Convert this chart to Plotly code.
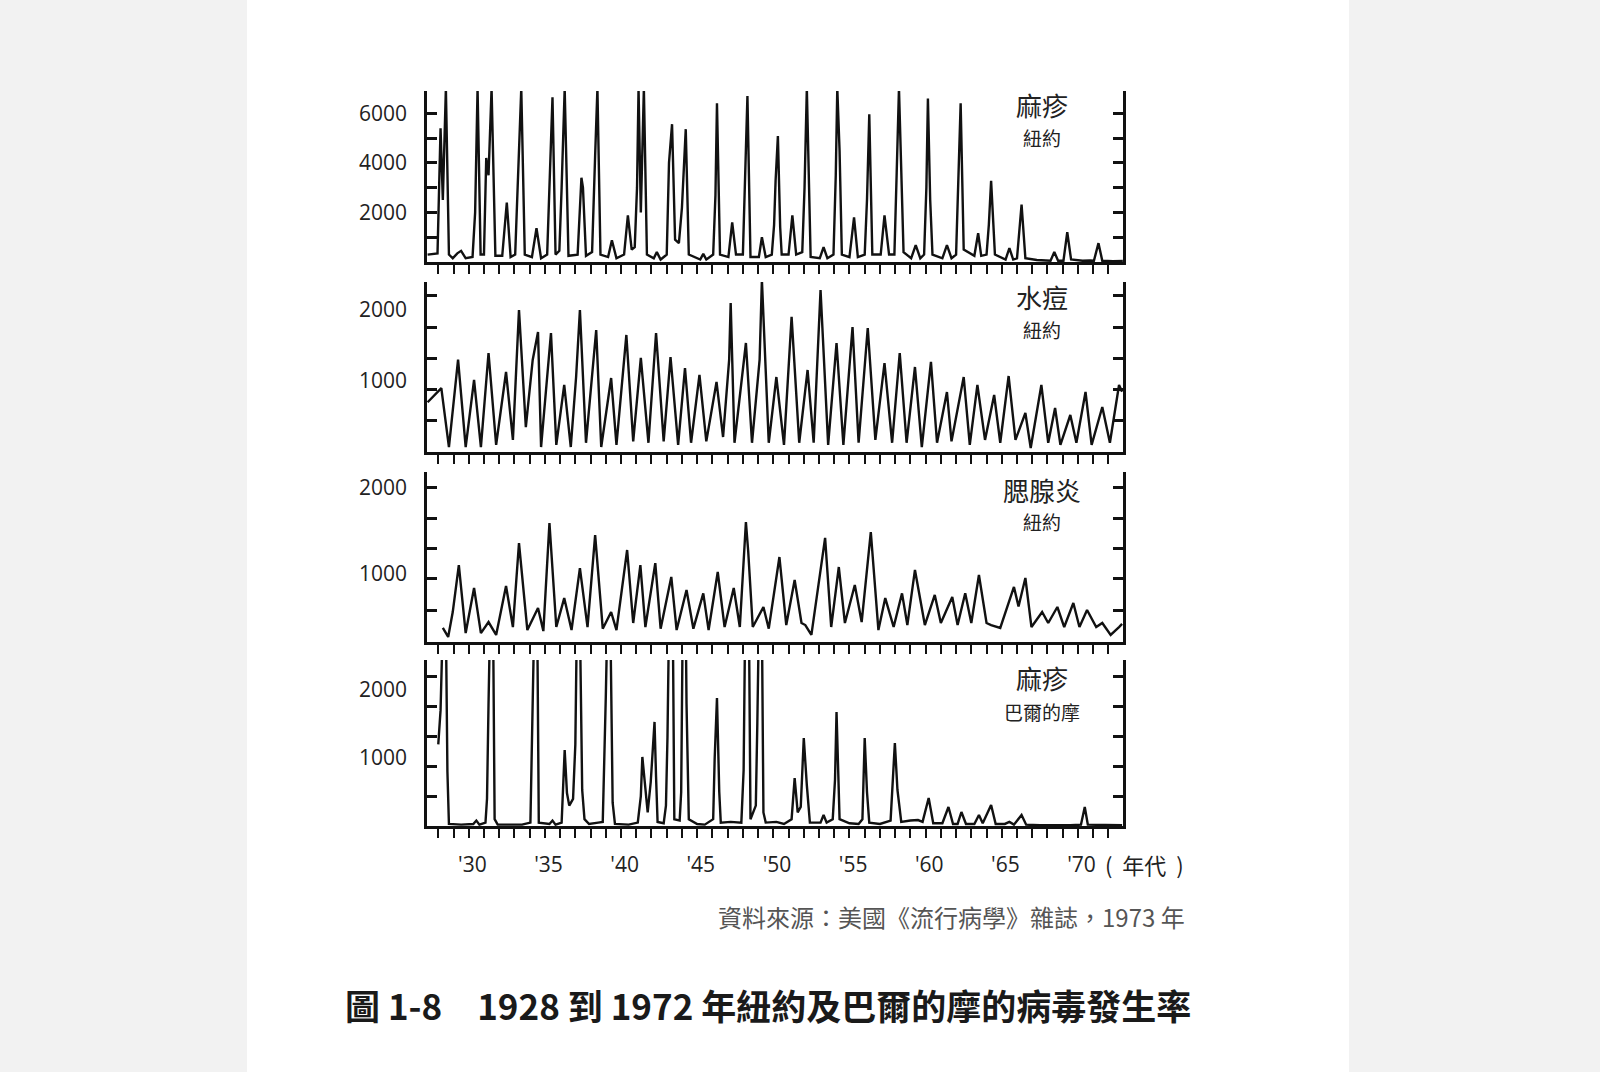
import plotly.graph_objects as go

# ---------------- data (decimal year, cases) ----------------
measles_ny_t = [1927.3, 1927.95, 1928.15, 1928.3, 1928.5, 1928.7, 1928.95, 1929.25, 1929.5, 1929.8,
    1930.25, 1930.42, 1930.58, 1930.78, 1931.0, 1931.15, 1931.3, 1931.5, 1931.75,
    1932.2, 1932.5, 1932.75, 1933.05, 1933.3, 1933.45, 1933.68, 1934.15, 1934.45, 1934.75,
    1935.15, 1935.35, 1935.5, 1935.7, 1935.95, 1936.1, 1936.3, 1936.55,
    1937.15, 1937.4, 1937.5, 1937.7, 1938.1, 1938.3, 1938.45, 1938.65, 1939.15, 1939.4, 1939.7,
    1940.2, 1940.45, 1940.7, 1940.9, 1941.05, 1941.15, 1941.3, 1941.5, 1941.7,
    1942.15, 1942.35, 1942.6, 1943.0, 1943.15, 1943.35, 1943.55, 1943.8,
    1944.0, 1944.25, 1944.45, 1945.2, 1945.4, 1945.6, 1946.05, 1946.2, 1946.3, 1946.5,
    1947.05, 1947.3, 1947.55, 1948.0, 1948.15, 1948.3, 1948.5, 1949.05, 1949.25, 1949.5,
    1949.9, 1950.05, 1950.15, 1950.3, 1950.45, 1950.55, 1951.0, 1951.25, 1951.5,
    1951.9, 1952.05, 1952.2, 1952.45, 1953.05, 1953.3, 1953.55,
    1953.95, 1954.1, 1954.2, 1954.35, 1954.5, 1955.0, 1955.3, 1955.55,
    1956.0, 1956.15, 1956.3, 1956.5, 1957.05, 1957.3, 1957.6,
    1957.95, 1958.1, 1958.25, 1958.55, 1959.05, 1959.35, 1959.65,
    1959.9, 1960.05, 1960.15, 1960.3, 1960.45, 1961.1, 1961.4, 1961.7,
    1962.0, 1962.15, 1962.3, 1962.5, 1963.2, 1963.45, 1963.65,
    1964.0, 1964.15, 1964.3, 1964.55, 1965.25, 1965.5, 1965.75,
    1966.0, 1966.3, 1966.55, 1967.3, 1967.7, 1968.2, 1968.45, 1968.7,
    1969.05, 1969.3, 1969.55, 1970.3, 1970.8, 1971.05, 1971.35, 1971.6, 1972.3, 1972.95]
measles_ny_v = [300, 350, 5400, 2500, 7000, 300, 150, 350, 450, 150,
    200, 2000, 7000, 300, 300, 4200, 3500, 7000, 250,
    250, 2400, 200, 300, 5000, 7000, 300, 200, 1360, 150,
    300, 3500, 6650, 300, 450, 3000, 7000, 250,
    300, 3400, 3000, 250, 400, 4300, 7000, 300, 200, 880, 150,
    300, 1880, 500, 600, 3000, 7000, 2000, 7000, 300,
    150, 400, 100, 300, 4000, 5560, 900, 760,
    2200, 5360, 300, 100, 330, 100, 300, 2700, 6400, 300,
    200, 1600, 300, 300, 3300, 6700, 200, 200, 1000, 200,
    300, 1500, 3300, 5080, 1400, 300, 300, 1880, 300,
    400, 3000, 7000, 200, 150, 600, 150,
    300, 3500, 7000, 4500, 300, 200, 1800, 200,
    300, 2500, 5960, 300, 300, 1880, 300,
    300, 3600, 7000, 400, 150, 680, 150,
    300, 3000, 6600, 2500, 300, 150, 680, 150,
    300, 3000, 6400, 500, 250, 1160, 250,
    300, 1500, 3280, 300, 100, 560, 100,
    150, 2320, 150, 80, 60, 50, 400, 50,
    50, 1200, 100, 50, 60, 50, 760, 50, 30, 40]

chickenpox_ny_t = [1927.3, 1928.2, 1928.7, 1929.3, 1929.8, 1930.35, 1930.8, 1931.3, 1931.8,
    1932.45, 1932.9, 1933.3, 1933.75, 1934.2, 1934.55, 1934.75, 1935.4, 1935.75, 1936.27, 1936.7,
    1937.05, 1937.3, 1937.7, 1938.37, 1938.7, 1939.35, 1939.7, 1940.35, 1940.8, 1941.3, 1941.8,
    1942.3, 1942.8, 1943.25, 1943.75, 1944.2, 1944.6, 1945.15, 1945.6, 1946.27, 1946.7,
    1947.1, 1947.2, 1947.45, 1948.2, 1948.6, 1949.1, 1949.25, 1949.7, 1950.2, 1950.7,
    1951.2, 1951.7, 1952.25, 1952.65, 1953.1, 1953.6, 1954.15, 1954.6, 1955.2, 1955.6,
    1956.2, 1956.7, 1957.3, 1957.8, 1958.3, 1958.75, 1959.3, 1959.75, 1960.35, 1960.75,
    1961.4, 1961.7, 1962.5, 1962.9, 1963.4, 1963.9, 1964.5, 1964.9, 1965.45, 1965.9,
    1966.55, 1966.9, 1967.6, 1968.05, 1968.5, 1968.85, 1969.5, 1969.9, 1970.5, 1970.9,
    1971.6, 1972.1, 1972.7, 1972.9]
chickenpox_ny_v = [700, 900, 70, 1300, 70, 1014, 70, 1394, 100,
    1127, 170, 2000, 350, 1296, 1690, 70, 1676, 100, 944, 70,
    1056, 2000, 130, 1718, 70, 1042, 100, 1648, 150, 1324, 130,
    1676, 150, 1338, 100, 1183, 130, 1085, 150, 986, 211,
    1300, 2098, 130, 1535, 130, 1300, 2422, 130, 1056, 100,
    1902, 130, 1155, 130, 2282, 100, 1535, 100, 1760, 130,
    1746, 170, 1253, 130, 1394, 130, 1197, 70, 1268, 130,
    845, 150, 1056, 100, 944, 170, 803, 130, 1070, 170,
    549, 56, 944, 130, 620, 100, 521, 130, 845, 100,
    634, 130, 944, 850]

mumps_ny_t = [1928.3, 1928.65, 1928.95, 1929.35, 1929.8, 1930.35, 1930.8, 1931.3, 1931.8,
    1932.3, 1932.45, 1932.9, 1933.3, 1933.85, 1934.55, 1934.9, 1935.3, 1935.75, 1936.27, 1936.75,
    1937.3, 1937.8, 1938.3, 1938.8, 1939.35, 1939.7, 1940.4, 1940.8, 1941.27, 1941.6,
    1942.25, 1942.6, 1943.3, 1943.65, 1944.3, 1944.75, 1945.4, 1945.75, 1946.35, 1946.8,
    1947.4, 1947.8, 1948.2, 1948.35, 1948.65, 1949.35, 1949.7, 1950.4, 1950.85, 1951.4, 1951.85,
    1952.1, 1952.5, 1953.4, 1953.8, 1954.3, 1954.7, 1955.35, 1955.8, 1956.4, 1956.9,
    1957.35, 1957.9, 1958.45, 1958.8, 1959.3, 1959.95, 1960.6, 1961.0, 1961.75, 1962.1,
    1962.6, 1963.0, 1963.5, 1964.0, 1964.3, 1964.9, 1965.8, 1966.1, 1966.55, 1966.95,
    1967.65, 1968.05, 1968.65, 1969.1, 1969.7, 1970.1, 1970.6, 1971.2, 1971.6, 1972.15,
    1972.7, 1972.9]
mumps_ny_v = [373, 268, 557, 1104, 313, 837, 313, 441, 291,
    713, 860, 383, 1360, 348, 605, 336, 1593, 383, 720, 348,
    1069, 383, 1453, 364, 558, 348, 1279, 430, 1104, 383,
    1127, 364, 965, 348, 814, 364, 775, 348, 1023, 383,
    837, 383, 1604, 1264, 383, 616, 364, 1197, 406, 930, 430,
    406, 291, 1419, 383, 1081, 430, 872, 441, 1488, 348,
    720, 383, 775, 406, 1047, 406, 756, 430, 732, 406,
    775, 430, 988, 430, 406, 373, 849, 621, 953, 383,
    558, 430, 616, 383, 663, 383, 581, 383, 430, 291,
    383, 419]

measles_balt_t = [1928.0, 1928.15, 1928.3, 1928.5, 1928.6, 1928.7,
    1929.5, 1930.3, 1930.5, 1930.7,
    1931.1, 1931.2, 1931.3, 1931.4, 1931.6, 1931.7, 1931.9,
    1933.5, 1934.05, 1934.2, 1934.3, 1934.5, 1934.6,
    1935.3, 1935.5, 1935.7,
    1936.1, 1936.3, 1936.45, 1936.6, 1936.85, 1937.0, 1937.1, 1937.3, 1937.45, 1937.6, 1937.9,
    1938.5, 1938.8, 1939.0, 1939.1, 1939.3, 1939.45, 1939.6,
    1940.5, 1941.1, 1941.3, 1941.4, 1941.6, 1941.75, 1941.95, 1942.2, 1942.3, 1942.4, 1942.8,
    1942.95, 1943.05, 1943.15, 1943.4, 1943.5, 1943.85,
    1943.95, 1944.05, 1944.25, 1944.3, 1944.45,
    1945.0, 1945.5, 1946.05, 1946.15, 1946.3, 1946.45, 1946.55,
    1947.2, 1947.9, 1948.05, 1948.15, 1948.4, 1948.5,
    1948.85, 1948.95, 1949.05, 1949.25, 1949.35, 1949.5,
    1950.2, 1950.7, 1951.2, 1951.4, 1951.6, 1951.8, 1952.0, 1952.2, 1952.4,
    1953.1, 1953.3, 1953.5, 1953.9, 1954.05, 1954.15, 1954.35,
    1955.0, 1955.6, 1955.85, 1956.0, 1956.15, 1956.3,
    1957.0, 1957.7, 1957.98, 1958.15, 1958.4,
    1959.0, 1959.5, 1959.8, 1960.2, 1960.5,
    1961.1, 1961.5, 1961.8, 1962.1, 1962.35, 1962.65,
    1963.2, 1963.5, 1963.75, 1964.3, 1964.6,
    1965.2, 1965.5, 1965.8, 1966.3, 1966.6,
    1967.5, 1969.5, 1970.2, 1970.45, 1970.65, 1972.9]
measles_balt_v = [1200, 1700, 3000, 3000, 800, 30,
    20, 30, 80, 20,
    50, 400, 1800, 3000, 3000, 100, 20,
    20, 50, 2000, 3000, 3000, 50,
    30, 80, 20,
    50, 1118, 485, 300, 400, 1200, 3000, 3000, 530, 100, 30,
    50, 60, 1900, 3000, 3000, 343, 30,
    20, 50, 440, 1015, 600, 200, 647, 1530, 720, 60, 40,
    300, 1310, 3000, 3000, 100, 80,
    500, 3000, 3000, 1800, 100,
    30, 20, 100, 1000, 1882, 500, 50,
    60, 50, 823, 3000, 3000, 100,
    300, 1510, 3000, 3000, 200, 50,
    60, 30, 100, 706, 200, 280, 1294, 600, 50,
    50, 162, 50, 100, 680, 1676, 100,
    40, 30, 100, 1294, 500, 50,
    30, 80, 1220, 530, 60,
    80, 88, 60, 412, 40,
    40, 280, 30, 30, 206, 30,
    30, 162, 40, 309, 30,
    30, 60, 20, 162, 20,
    10, 10, 20, 280, 20, 10]

year_ticks = list(range(1928, 1973))
decade_label_pos = [1930.5, 1935.5, 1940.5, 1945.5, 1950.5, 1955.5, 1960.5, 1965.5, 1970.5]
decade_labels = ["'30", "'35", "'40", "'45", "'50", "'55", "'60", "'65", "'70"]

panel_titles = ["麻疹", "水痘", "腮腺炎", "麻疹"]
panel_places = ["紐約", "紐約", "紐約", "巴爾的摩"]

title_text = "圖 1-8　1928 到 1972 年紐約及巴爾的摩的病毒發生率"
source_text = "資料來源：美國《流行病學》雜誌，1973 年"
unit_text = "(\u00a0\u00a0年代\u00a0\u00a0)"

# ---------------- layout helpers ----------------
W, H = 1600, 1072
def px_x(p):
    return p / W
def px_y(p):
    return 1 - p / H

XDOM = [px_x(427), px_x(1123)]
# (top px, bottom px) of each panel
panel_px = [(91, 262), (282, 452), (472, 642), (660, 826)]
yranges = [[0, 6900], [0, 2394], [209, 2186], [0, 2441]]
major_vals = [[2000, 4000, 6000], [1000, 2000], [1000, 2000], [1000, 2000]]
minor_vals = [[1000, 3000, 5000], [440, 880, 1320, 1760, 2200],
              [581, 942, 1291, 1651, 2000], [441, 882, 1323, 1764, 2205]]
major_ticks = ["inside", "", "", ""]

series = [(measles_ny_t, measles_ny_v), (chickenpox_ny_t, chickenpox_ny_v),
          (mumps_ny_t, mumps_ny_v), (measles_balt_t, measles_balt_v)]

TXT = "#222222"
TICKFONT = dict(family="Open Sans, Noto Sans, sans-serif", size=21, color=TXT)
CJK = "Noto Sans CJK TC, Noto Sans CJK SC, sans-serif"

fig = go.Figure()
layout = {}
for i, (t, v) in enumerate(series):
    n = i + 1
    xa = "x" if n == 1 else f"x{n}"
    ya = "y" if n == 1 else f"y{n}"
    fig.add_trace(go.Scatter(x=t, y=v, mode="lines", xaxis=xa, yaxis=ya,
                             line=dict(color="#111111", width=2.4), showlegend=False,
                             hoverinfo="skip"))
    top, bot = panel_px[i]
    last = (n == 4)
    layout["xaxis" if n == 1 else f"xaxis{n}"] = dict(
        domain=XDOM, anchor=ya, range=[1927.26, 1972.96],
        showline=True, linecolor="#111111", linewidth=2.5, mirror=False,
        showgrid=False, zeroline=False,
        tickmode="array", tickvals=decade_label_pos, ticktext=decade_labels,
        ticks="", showticklabels=last, tickfont=TICKFONT, ticklabelstandoff=18,
        ticklabelshift=-4,
        minor=dict(tickmode="array", tickvals=year_ticks, ticks="outside",
                   ticklen=9, tickwidth=2, tickcolor="#111111"),
    )
    layout["yaxis" if n == 1 else f"yaxis{n}"] = dict(
        domain=[px_y(bot), px_y(top)], anchor=xa, range=yranges[i],
        showline=True, linecolor="#111111", linewidth=2.5, mirror="ticks",
        showgrid=False, zeroline=False,
        tickmode="array", tickvals=major_vals[i], ticktext=[str(x) for x in major_vals[i]],
        ticks=major_ticks[i], ticklen=10, tickwidth=2.5, tickcolor="#111111",
        tickfont=TICKFONT, ticklabelstandoff=13,
        minor=dict(tickmode="array", tickvals=minor_vals[i], ticks="inside",
                   ticklen=10, tickwidth=2.5, tickcolor="#111111"),
    )

annotations = []
title_y = [105, 296, 489, 677]
place_y = [137, 330, 521, 711]
for i in range(4):
    annotations.append(dict(text=panel_titles[i], x=px_x(1042), y=px_y(title_y[i]),
                            xref="paper", yref="paper", showarrow=False,
                            xanchor="center", yanchor="middle",
                            font=dict(family=CJK, size=26, color=TXT)))
    annotations.append(dict(text=panel_places[i], x=px_x(1042), y=px_y(place_y[i]),
                            xref="paper", yref="paper", showarrow=False,
                            xanchor="center", yanchor="middle",
                            font=dict(family=CJK, size=19, color=TXT)))
annotations.append(dict(text=unit_text, x=px_x(1103), y=px_y(864), xref="paper", yref="paper",
                        showarrow=False, xanchor="left", yanchor="middle",
                        font=dict(family=CJK, size=22, color=TXT)))
annotations.append(dict(text=source_text, x=px_x(1187), y=px_y(916), xref="paper", yref="paper",
                        showarrow=False, xanchor="right", yanchor="middle",
                        font=dict(family=CJK, size=24, color="#555555")))
annotations.append(dict(text="<b>" + title_text + "</b>", x=px_x(343), y=px_y(1004),
                        xref="paper", yref="paper", showarrow=False,
                        xanchor="left", yanchor="middle",
                        font=dict(family=CJK, size=35, color="#1a1a1a")))

fig.update_layout(
    width=W, height=H, margin=dict(l=0, r=0, t=0, b=0),
    paper_bgcolor="#f2f2f2", plot_bgcolor="rgba(0,0,0,0)",
    annotations=annotations,
    shapes=[dict(type="rect", xref="paper", yref="paper", x0=px_x(247), x1=px_x(1349),
                 y0=0, y1=1, fillcolor="white", line=dict(width=0), layer="below")],
    **layout,
)

fig.write_html("out.html")
